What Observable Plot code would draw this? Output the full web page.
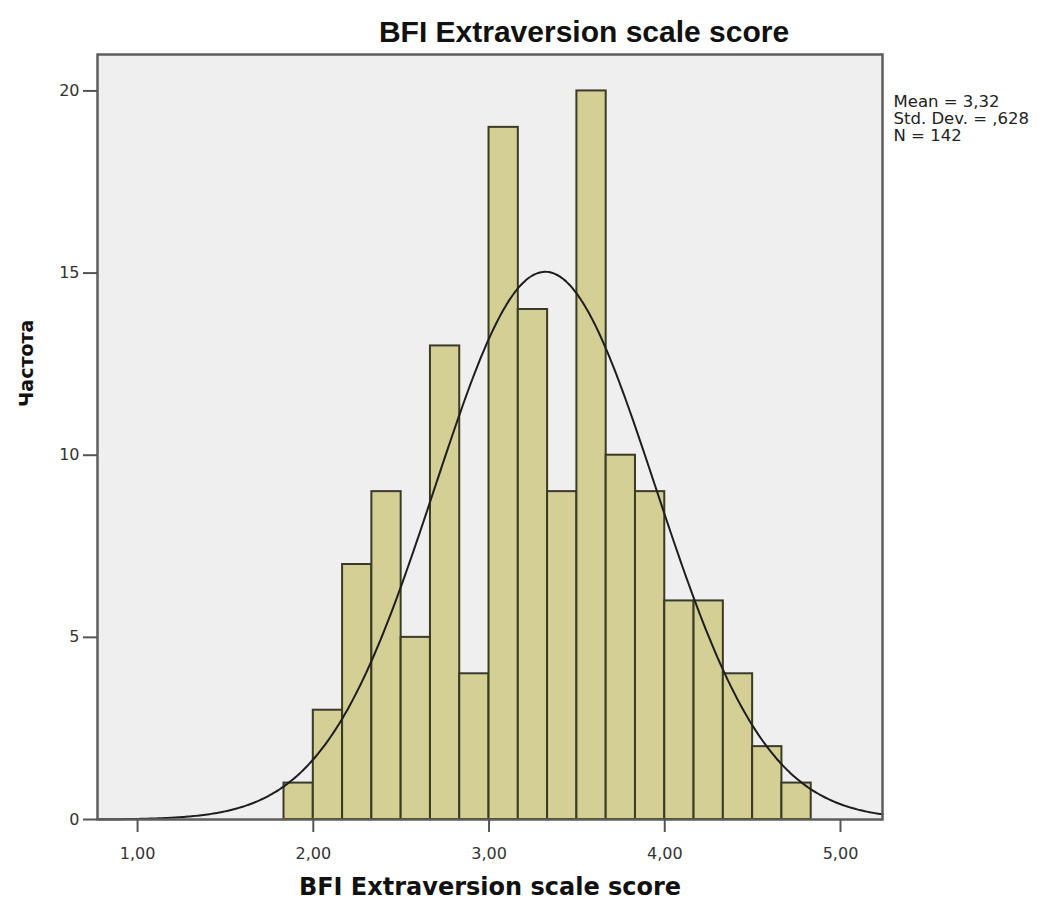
<!DOCTYPE html>
<html>
<head>
<meta charset="utf-8">
<script src="https://cdn.jsdelivr.net/npm/d3@7"></script>
<script src="https://cdn.jsdelivr.net/npm/@observablehq/plot@0.6"></script>
<style>
  html, body { margin: 0; padding: 0; background: #ffffff; }
  #chart svg { display: block; }
</style>
</head>
<body>
<div id="chart"></div>
<script>
// ---- Data ----
const title = "BFI Extraversion scale score";
const xLabel = "BFI Extraversion scale score";
const yLabel = "Частота";
const binStart = 11 / 6;       // left edge of first bin
const binWidth = 1 / 6;        // bin width
const counts = [1, 3, 7, 9, 5, 13, 4, 19, 14, 9, 20, 10, 9, 6, 6, 4, 2, 1];
const statsMean = 3.32;
const statsSd = 0.628;
const statsN = 142;
const statsLines = ["Mean = 3,32", "Std. Dev. = ,628", "N = 142"];
const xTicks = [1, 2, 3, 4, 5];
const yTicks = [0, 5, 10, 15, 20];
const xDomain = [0.772, 5.239];
const yDomain = [0, 21];

// ---- Derived tables ----
const bars = counts.map((c, i) => ({
  x1: binStart + i * binWidth,
  x2: binStart + (i + 1) * binWidth,
  y: c
}));
// Normal curve implied by the displayed Mean, Std. Dev. and N
const curve = d3.range(0, 401).map(k => {
  const x = xDomain[0] + (xDomain[1] - xDomain[0]) * k / 400;
  const z = (x - statsMean) / statsSd;
  const y = statsN * binWidth / (statsSd * Math.sqrt(2 * Math.PI)) * Math.exp(-0.5 * z * z);
  return {x, y};
});
const fmtComma = d => d.toFixed(2).replace(".", ",");
const sansWide = "'DejaVu Sans', Verdana, sans-serif";

const chart = Plot.plot({
  width: 1044,
  height: 902,
  marginLeft: 97,
  marginRight: 162,
  marginTop: 54,
  marginBottom: 83,
  style: { fontFamily: sansWide, background: "#ffffff" },
  x: { domain: xDomain },
  y: { domain: yDomain },
  marks: [
    Plot.frame({ fill: "#efefef" }),
    Plot.rectY(bars, { x1: "x1", x2: "x2", y: "y", fill: "#d4cf95", stroke: "#3b3a22", strokeWidth: 2 }),
    Plot.line(curve, { x: "x", y: "y", stroke: "#1e1e1e", strokeWidth: 2, curve: "natural" }),
    Plot.frame({ stroke: "#5e5e5e", strokeWidth: 2.5 }),
    Plot.axisX({ ticks: xTicks, tickFormat: fmtComma, tickSize: 13, tickPadding: 15, fontSize: 16, fontFamily: sansWide, color: "#333", stroke: "#555", strokeWidth: 2, label: null }),
    Plot.axisY({ ticks: yTicks, tickFormat: d => String(d), tickSize: 14, tickPadding: 4, fontSize: 16, fontFamily: sansWide, color: "#333", stroke: "#555", strokeWidth: 2, label: null }),
    // Title
    Plot.text([title], { text: d => d, frameAnchor: "top", lineAnchor: "middle", dx: 94, dy: -22, fontSize: 30, fontWeight: "bold", fill: "#111", fontFamily: "'Liberation Sans', Arial, sans-serif" }),
    // X label
    Plot.text([xLabel], { text: d => d, frameAnchor: "bottom", lineAnchor: "middle", dx: 0, dy: 68, fontSize: 24, fontWeight: "bold", fill: "#111", fontFamily: sansWide }),
    // Y label
    Plot.text([yLabel], { text: d => d, frameAnchor: "left", dx: -71, dy: -30, rotate: -90, fontSize: 19, fontWeight: "bold", fill: "#111", fontFamily: sansWide }),
    // Stats
    Plot.text([statsLines.join("\n")], { text: d => d, frameAnchor: "top-right", textAnchor: "start", lineAnchor: "top", dx: 11, dy: 40, fontSize: 16.5, lineHeight: 1.03, fill: "#222", fontFamily: sansWide })
  ]
});
document.getElementById("chart").appendChild(chart);
</script>
</body>
</html>
